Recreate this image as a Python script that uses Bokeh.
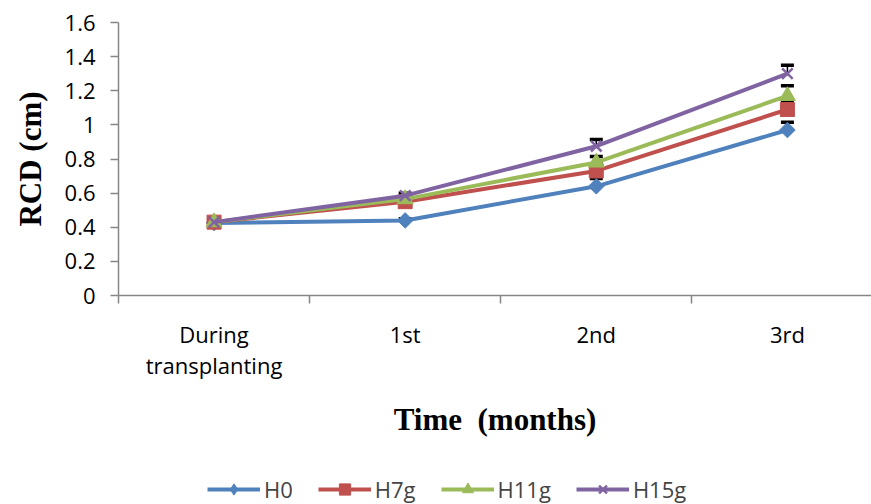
import math
from bokeh.plotting import figure
from bokeh.layouts import column
from bokeh.models import (Range1d, FixedTicker, Whisker, TeeHead, ColumnDataSource,
                          Legend, LegendItem)
from bokeh.embed import file_html
from bokeh.resources import INLINE

# Sampling times (categories) and root collar diameter (cm) per treatment
months = ["During\ntransplanting", "1st", "2nd", "3rd"]
series_names = ["H0", "H7g", "H11g", "H15g"]
h0 = [0.425, 0.44, 0.64, 0.97]
h7g = [0.43, 0.55, 0.73, 1.09]
h11g = [0.43, 0.565, 0.78, 1.17]
h15g = [0.43, 0.585, 0.875, 1.30]
# standard errors (plus side only)
h0_err = [0.01, 0.01, 0.045, 0.045]
h7g_err = [0.01, 0.01, 0.04, 0.05]
h11g_err = [0.01, 0.01, 0.035, 0.06]
h15g_err = [0.01, 0.015, 0.04, 0.05]

y_ticks = [0.0, 0.2, 0.4, 0.6, 0.8, 1.0, 1.2, 1.4, 1.6]
y_tick_labels = ["0", "0.2", "0.4", "0.6", "0.8", "1", "1.2", "1.4", "1.6"]

colors = ["#4F81BD", "#C0504D", "#9BBB59", "#8064A2"]
# (marker, size, angle): in the chart the diamond is a square turned by 45 degrees
marker_styles = [("square", 11, math.pi / 4), ("square", 14, 0.0),
                 ("triangle", 16, 0.0), ("x", 15, 0.0)]

TICK_FONT = "Open Sans"
TITLE_FONT = "Liberation Serif"
AXIS_COLOR = "#868686"

x = [i + 0.5 for i in range(len(months))]
values = [h0, h7g, h11g, h15g]
errors = [h0_err, h7g_err, h11g_err, h15g_err]


def add_series(fig, for_legend=False):
    """Draw the four treatment lines with markers; return legend items."""
    items = []
    for name, vals, col, (mk, ms, ang) in zip(series_names, values, colors, marker_styles):
        src = ColumnDataSource(dict(x=x, y=vals))
        ln = fig.line("x", "y", source=src, line_color=col, line_width=4)
        if for_legend and ang:
            mk, ang = "diamond", 0.0
        if mk == "x":
            sc = fig.scatter("x", "y", source=src, marker=mk, size=ms,
                             line_color=col, line_width=2.5)
        else:
            sc = fig.scatter("x", "y", source=src, marker=mk, size=ms,
                             angle=ang, fill_color=col, line_color=col)
        items.append(LegendItem(label=name, renderers=[ln, sc]))
    return items


p = figure(width=871, height=466, output_backend="svg", toolbar_location=None,
           x_range=Range1d(0, 3.94), y_range=Range1d(0, 1.6),
           min_border_left=118, min_border_right=0, min_border_top=22,
           min_border_bottom=171)
p.outline_line_color = None
p.grid.visible = False

# x axis: category labels centred, tick marks on the boundaries
p.xaxis.ticker = FixedTicker(ticks=x, minor_ticks=[0, 1, 2, 3])
p.xaxis.major_label_overrides = {xv: m for xv, m in zip(x, months)}
p.xaxis.major_tick_out = 0
p.xaxis.major_tick_in = 0
p.xaxis.minor_tick_out = 8
p.xaxis.minor_tick_in = 0
p.xaxis.axis_label = "Time \u00a0(months)"
p.xaxis.major_label_standoff = 15
p.xaxis.major_label_text_line_height = 1.05

# y axis
p.yaxis.ticker = FixedTicker(ticks=y_ticks, minor_ticks=[])
p.yaxis.major_label_overrides = {t: l for t, l in zip(y_ticks, y_tick_labels)}
p.yaxis.major_tick_out = 8
p.yaxis.major_tick_in = 0
p.yaxis.axis_label = "RCD (cm)"
p.yaxis.major_label_standoff = 15

for ax in (p.xaxis, p.yaxis):
    ax.axis_line_color = AXIS_COLOR
    ax.axis_line_width = 1.5
    ax.major_tick_line_color = AXIS_COLOR
    ax.major_tick_line_width = 1.5
    ax.minor_tick_line_color = AXIS_COLOR
    ax.minor_tick_line_width = 1.5
    ax.major_label_text_font = TICK_FONT
    ax.major_label_text_font_size = "22px"
    ax.major_label_text_color = "black"
    ax.axis_label_text_font = TITLE_FONT
    ax.axis_label_text_font_style = "bold"
    ax.axis_label_text_font_size = "31px"
    ax.axis_label_text_color = "black"
p.xaxis.axis_label_standoff = 19
p.yaxis.axis_label_standoff = 14

# error bars (upper side)
for vals, errs in zip(values, errors):
    src = ColumnDataSource(dict(x=x, lower=vals, upper=[v + e for v, e in zip(vals, errs)]))
    p.add_layout(Whisker(source=src, base="x", lower="lower", upper="upper",
                         dimension="height", line_color="black", line_width=1.5,
                         lower_head=None,
                         upper_head=TeeHead(size=13, line_color="black", line_width=3.5)))

add_series(p)

# legend strip under the chart; its own glyphs lie outside its visible range
lg = figure(width=871, height=38, output_backend="svg", toolbar_location=None,
            x_range=Range1d(-20, -10), y_range=Range1d(-20, -10),
            min_border=0)
lg.axis.visible = False
lg.grid.visible = False
lg.outline_line_color = None
legend_items = add_series(lg, for_legend=True)
legend = Legend(items=legend_items, orientation="horizontal", location=(89, 0),
                glyph_width=53, glyph_height=28, spacing=25, label_standoff=4,
                label_text_font=TICK_FONT, label_text_font_size="22px",
                border_line_color=None, background_fill_alpha=0,
                padding=0, margin=0)
lg.add_layout(legend, "center")

open("out.html", "w").write(file_html(column(p, lg, spacing=0), INLINE))
